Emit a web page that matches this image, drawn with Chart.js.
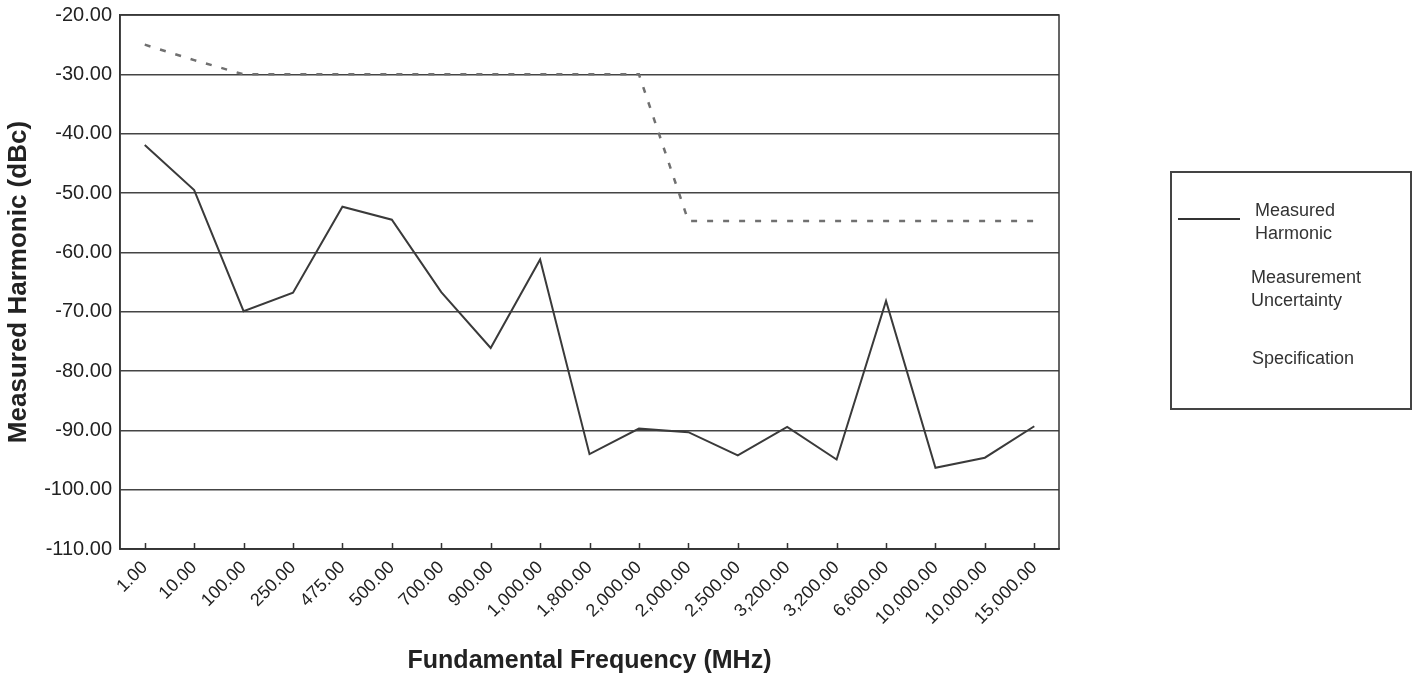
<!DOCTYPE html>
<html>
<head>
<meta charset="utf-8">
<script src="https://cdn.jsdelivr.net/npm/chart.js@4"></script>
<style>
  body { margin: 0; background: #fff; font-family: "Liberation Sans", Arial, sans-serif; overflow: hidden; }
  #wrap { position: relative; width: 1416px; height: 678px; overflow: hidden; }
  #grafico { position: absolute; left: 0; top: -5px; }
  #legenda { position: absolute; left: 1170px; top: 171px; width: 238px; height: 235px; border: 2px solid #444; color: #333; font-size: 18px; line-height: 23px; }
  #legenda .linha { position: absolute; left: 6px; top: 45px; width: 62px; height: 2px; background: #333; }
  #legenda .txt { position: absolute; }
</style>
</head>
<body>
<div id="wrap">
  <canvas id="grafico" width="1416" height="683"></canvas>
  <div id="legenda">
    <div class="linha"></div>
    <div class="txt" style="left:83px; top:26px;">Measured<br>Harmonic</div>
    <div class="txt" style="left:79px; top:93px;">Measurement<br>Uncertainty</div>
    <div class="txt" style="left:80px; top:174px;">Specification</div>
  </div>
</div>
<script>
// Frequências (MHz) - rótulos do eixo x
const frequencias = ["1.00", "10.00", "100.00", "250.00", "475.00", "500.00", "700.00", "900.00",
  "1,000.00", "1,800.00", "2,000.00", "2,000.00", "2,500.00", "3,200.00", "3,200.00",
  "6,600.00", "10,000.00", "10,000.00", "15,000.00"];

// Harmônico medido (dBc)
const harmonicoMedido = [-41.9, -49.5, -69.9, -66.8, -52.3, -54.5, -66.7, -76.1,
  -61.2, -94.0, -89.7, -90.3, -94.2, -89.4, -94.9, -68.2, -96.3, -94.6, -89.3];

// Limite da especificação (dBc)
const especificacao = [-25.0, -27.6, -30.0, -30.0, -30.0, -30.0, -30.0, -30.0,
  -30.0, -30.0, -30.0, -54.7, -54.7, -54.7, -54.7, -54.7, -54.7, -54.7, -54.7];

// Eixo y
const yMin = -110;
const yMax = -20;
const yPasso = 10;

// Moldura da área do gráfico + marcas do eixo x para dentro
const moldura = {
  id: "moldura",
  afterDraw(chart) {
    const { ctx, chartArea: a } = chart;
    const escalaX = chart.scales.x;
    ctx.save();
    ctx.strokeStyle = "#333";
    ctx.lineWidth = 1.5;
    ctx.strokeRect(a.left, a.top, a.right - a.left, a.bottom - a.top);
    ctx.beginPath();
    escalaX.ticks.forEach((t, i) => {
      const x = Math.round(escalaX.getPixelForTick(i)) + 0.5;
      ctx.moveTo(x, a.bottom);
      ctx.lineTo(x, a.bottom - 6);
    });
    ctx.stroke();
    ctx.restore();
  }
};

const ctx = document.getElementById("grafico").getContext("2d");
new Chart(ctx, {
  type: "line",
  data: {
    labels: frequencias,
    datasets: [
      {
        label: "Measured Harmonic",
        data: harmonicoMedido,
        borderColor: "#3a3a3a",
        borderWidth: 2,
        pointRadius: 0,
        tension: 0,
        fill: false
      },
      {
        label: "Specification",
        data: especificacao,
        borderColor: "#707070",
        borderWidth: 2.5,
        borderDash: [6, 10],
        pointRadius: 0,
        tension: 0,
        fill: false
      }
    ]
  },
  options: {
    responsive: false,
    animation: false,
    layout: { padding: { top: -8, right: 357, bottom: 2, left: 3 } },
    plugins: {
      legend: { display: false },
      tooltip: { enabled: false }
    },
    scales: {
      x: {
        offset: true,
        grid: { offset: false, drawOnChartArea: false, drawTicks: false },
        border: { color: "#333", width: 1.5 },
        ticks: {
          maxRotation: 45,
          minRotation: 45,
          autoSkip: false,
          padding: 8,
          color: "#222",
          font: { family: "Liberation Sans", size: 18 }
        },
        title: {
          display: true,
          text: "Fundamental Frequency (MHz)",
          color: "#222",
          font: { family: "Liberation Sans", size: 25, weight: "bold" },
          padding: { top: 9, bottom: 0 }
        }
      },
      y: {
        min: yMin,
        max: yMax,
        ticks: {
          stepSize: yPasso,
          color: "#222",
          padding: 8,
          font: { family: "Liberation Sans", size: 20 },
          callback: (v) => v.toFixed(2)
        },
        grid: { color: "#444", lineWidth: 1.5, drawTicks: false },
        border: { color: "#333", width: 1.5 },
        title: {
          display: true,
          text: "Measured Harmonic (dBc)",
          color: "#222",
          font: { family: "Liberation Sans", size: 26, weight: "bold" },
          padding: { top: 0, bottom: 2 }
        }
      }
    }
  },
  plugins: [moldura]
});
</script>
</body>
</html>
